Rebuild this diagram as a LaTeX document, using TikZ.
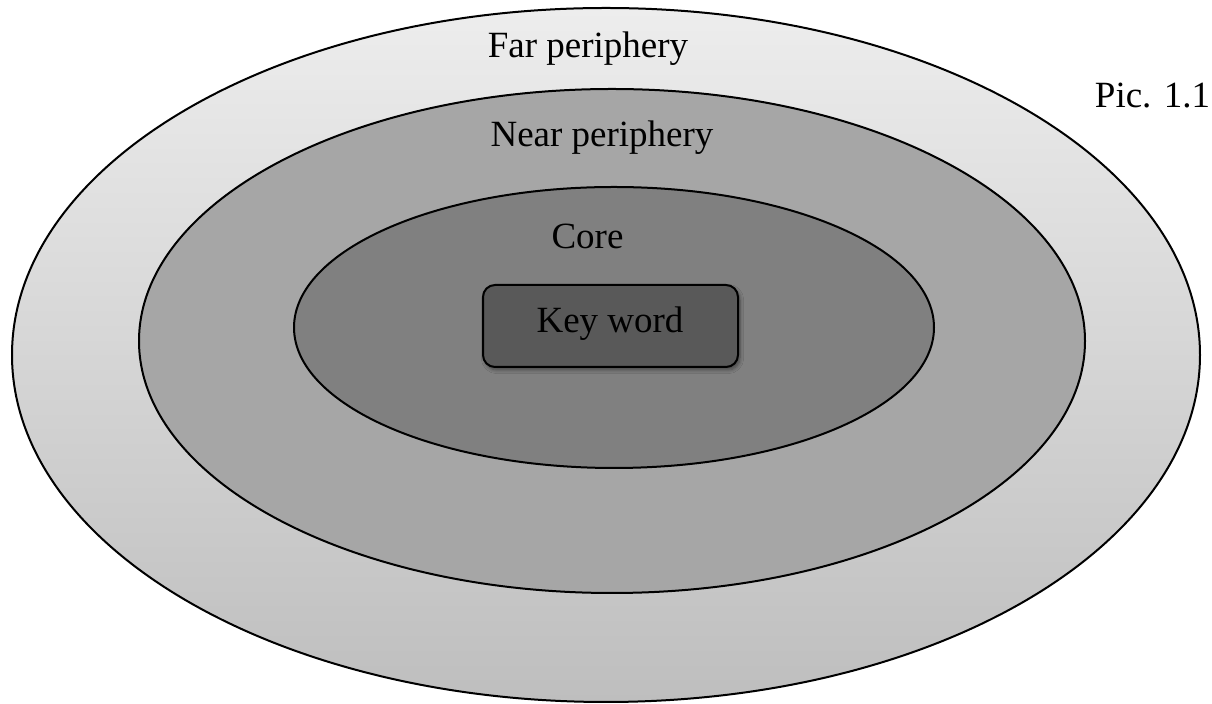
\documentclass[tikz,border=0pt]{standalone}
\usepackage{fontspec}
\setmainfont{Liberation Serif}
\usetikzlibrary{shapes.geometric,shadows.blur}
\definecolor{farTop}{HTML}{EDEDED}
\definecolor{farBot}{HTML}{BEBEBE}
\definecolor{nearFill}{HTML}{A6A6A6}
\definecolor{coreFill}{HTML}{808080}
\definecolor{keyFill}{HTML}{595959}
\tikzset{
  ring/.style={ellipse, draw=black, line width=1pt, inner sep=0pt},
  lbl/.style={anchor=base, inner sep=0pt, font=\fontsize{18.5}{22}\selectfont},
  keybox/.style={rectangle, rounded corners=6pt, draw=black, line width=1pt, fill=keyFill,
    minimum width=127.5pt, minimum height=41pt, inner sep=0pt,
    blur shadow={shadow xshift=1pt, shadow yshift=-1.5pt, shadow blur steps=6, shadow opacity=45}}
}
\begin{document}
\begin{tikzpicture}[x=0.5pt,y=-0.5pt]
\useasboundingbox (0,0) rectangle (1212,704);
\node[ring, top color=farTop, bottom color=farBot, minimum width=594pt, minimum height=347pt] (outer) at (606,355) {};
\node[ring, fill=nearFill, minimum width=473pt, minimum height=252pt] (near) at (612,341) {};
\node[ring, fill=coreFill, minimum width=320pt, minimum height=140.5pt] (core) at (614,327.5) {};
\node[keybox] (key) at (610.5,326) {};
\node[lbl] (fartext) at (588,58) {Far periphery};
\node[lbl] (neartext) at (602,147) {Near periphery};
\node[lbl] (coretext) at (587.5,249) {Core};
\node[lbl] (keytext) at (610,333) {Key word};
\node[lbl] (pic) at (1152.5,108) {Pic. 1.1};
\end{tikzpicture}
\end{document}
